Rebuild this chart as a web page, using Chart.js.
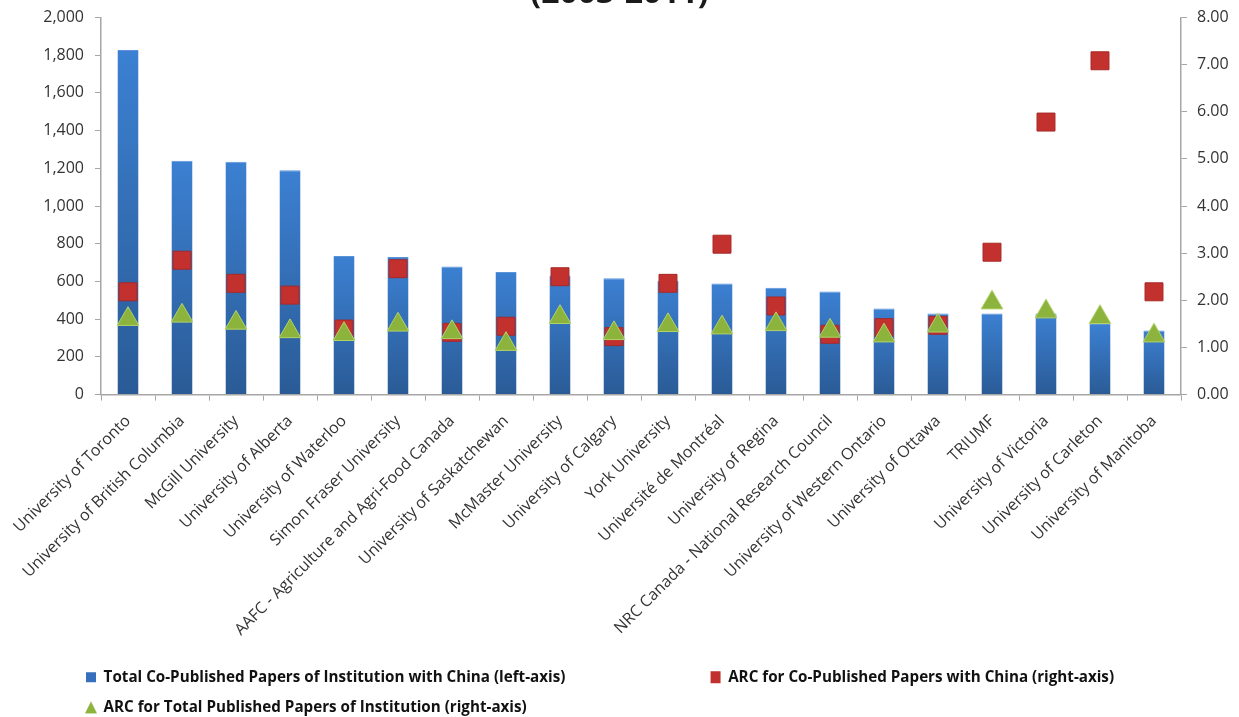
<!DOCTYPE html>
<html lang="en">
<head>
    <meta charset="UTF-8">
    <title>Co-Published Papers with China</title>
    <style>
        html, body {
            margin: 0;
            padding: 0;
            background: #fff;
            overflow: hidden;
        }
        .wrap {
            position: relative;
            width: 1239px;
            height: 717px;
            overflow: hidden;
        }
        #chart {
            position: absolute;
            left: 0;
            top: -30px;
        }
    </style>
</head>
<body>
<div class="wrap">
    <canvas id="chart" width="1239" height="755"></canvas>
</div>

<script src="https://cdn.jsdelivr.net/npm/chart.js"></script>
<script>
    // institutions, in the order shown
    const institutions = [
        'University of Toronto', 'University of British Columbia', 'McGill University',
        'University of Alberta', 'University of Waterloo', 'Simon Fraser University',
        'AAFC - Agriculture and Agri-Food Canada', 'University of Saskatchewan',
        'McMaster University', 'University of Calgary', 'York University',
        'Université de Montréal', 'University of Regina',
        'NRC Canada - National Research Council', 'University of Western Ontario',
        'University of Ottawa', 'TRIUMF', 'University of Victoria',
        'University of Carleton', 'University of Manitoba'
    ];

    // left axis: total co-published papers with China
    const coPublished = [1827, 1240, 1235, 1189, 735, 729, 679, 650, 632, 617,
                         603, 589, 566, 546, 457, 430, 430, 430, 374, 340];

    // right axis: ARC for co-published papers with China
    const arcChina = [2.18, 2.85, 2.36, 2.11, 1.39, 2.67, 1.32, 1.45, 2.50, 1.23,
                      2.36, 3.19, 1.88, 1.28, 1.42, 1.47, 3.02, 5.78, 7.08, 2.18];

    // right axis: ARC for total published papers
    const arcTotal = [1.60, 1.67, 1.52, 1.34, 1.28, 1.48, 1.32, 1.07, 1.64, 1.30,
                      1.47, 1.42, 1.49, 1.35, 1.25, 1.46, 1.95, 1.76, 1.64, 1.25];

    const titleText = '(2003-2011)';
    const legendTexts = [
        'Total Co-Published Papers of Institution with China (left-axis)',
        'ARC for Co-Published Papers with China (right-axis)',
        'ARC for Total Published Papers of Institution (right-axis)'
    ];

    const axisColor = '#a6a6a6';
    const tickFont = { family: 'Open Sans', size: 16 };
    const legendFont = { family: 'Open Sans', size: 15.2, weight: 'bold' };

    // small marker images for the legend
    function legendMarker(kind) {
        const c = document.createElement('canvas');
        c.width = 12; c.height = 14;
        const g = c.getContext('2d');
        if (kind === 'bar') {
            g.fillStyle = '#3670bd';
            g.fillRect(1, 2, 10, 10);
        } else if (kind === 'rect') {
            g.fillStyle = '#c0302e';
            g.fillRect(1, 1, 10, 12);
        } else {
            g.fillStyle = '#8cb43c';
            g.beginPath();
            g.moveTo(6, 1); g.lineTo(12, 13); g.lineTo(0, 13);
            g.closePath(); g.fill();
        }
        return c;
    }
    const markers = [legendMarker('bar'), legendMarker('rect'), legendMarker('tri')];

    // pad the first legend entry so the second one starts where it does in the original
    function padFirstLegend(text) {
        const m = document.createElement('canvas').getContext('2d');
        m.font = 'bold 15.2px "Open Sans"';
        const target = 592;
        const sp = m.measureText('\u00A0').width;
        const n = Math.max(0, Math.round((target - m.measureText(text).width) / sp));
        return text + '\u00A0'.repeat(n);
    }

    function barGradient(c) {
        const chart = c.chart;
        const area = chart.chartArea;
        if (!area || c.type !== 'data') return '#3670bd';
        const top = chart.scales.y.getPixelForValue(c.raw);
        const g = chart.ctx.createLinearGradient(0, top, 0, area.bottom);
        g.addColorStop(0, '#3c80d2');
        g.addColorStop(1, '#2a5b96');
        return g;
    }

    // move the legend so its rows line up under the plot area
    const legendShift = {
        id: 'legendShift',
        afterLayout(chart) {
            const lg = chart.legend;
            const dx = chart.chartArea.left - 30 - lg.left;
            lg.left += dx;
            lg.right += dx;
        }
    };

    new Chart(document.getElementById('chart'), {
        type: 'bar',
        data: {
            labels: institutions,
            datasets: [
                {
                    type: 'line',
                    label: legendTexts[1],
                    data: arcChina,
                    yAxisID: 'y2',
                    showLine: false,
                    pointStyle: 'rect',
                    pointRadius: 12.7,
                    pointHoverRadius: 12.7,
                    backgroundColor: '#c3312f',
                    borderColor: '#a82826',
                    borderWidth: 1,
                    order: 1
                },
                {
                    type: 'line',
                    label: legendTexts[2],
                    data: arcTotal,
                    yAxisID: 'y2',
                    showLine: false,
                    pointStyle: 'triangle',
                    pointRadius: 12.5,
                    pointHoverRadius: 12.5,
                    backgroundColor: '#8cb43c',
                    borderColor: '#b3d26a',
                    borderWidth: 1,
                    order: 0
                },
                {
                    label: legendTexts[0],
                    data: coPublished,
                    yAxisID: 'y',
                    backgroundColor: barGradient,
                    borderColor: '#5b93d8',
                    borderWidth: { top: 1, left: 0, right: 0, bottom: 0 },
                    categoryPercentage: 1,
                    barPercentage: 0.39,
                    order: 2
                }
            ]
        },
        plugins: [legendShift],
        options: {
            responsive: false,
            animation: false,
            layout: { padding: 0 },
            plugins: {
                tooltip: { enabled: false },
                title: {
                    display: true,
                    text: titleText,
                    color: '#1a1a1a',
                    font: { family: 'Open Sans', size: 32, weight: 'bold' },
                    padding: { top: 5, bottom: 4 }
                },
                legend: {
                    position: 'bottom',
                    align: 'start',
                    labels: {
                        usePointStyle: true,
                        boxWidth: 10,
                        padding: 15,
                        color: '#111',
                        font: legendFont,
                        generateLabels: function (chart) {
                            // order: bars, squares, triangles
                            const idx = [2, 0, 1];
                            return idx.map(function (d, i) {
                                let text = chart.data.datasets[d].label;
                                if (i === 0) text = padFirstLegend(text);
                                return {
                                    text: text,
                                    pointStyle: markers[i],
                                    fillStyle: 'transparent',
                                    strokeStyle: 'transparent',
                                    lineWidth: 0,
                                    hidden: false,
                                    datasetIndex: d,
                                    fontColor: '#111'
                                };
                            });
                        }
                    }
                }
            },
            scales: {
                x: {
                    grid: {
                        display: true,
                        drawOnChartArea: false,
                        drawTicks: true,
                        tickLength: 6,
                        color: axisColor,
                        offset: true
                    },
                    border: { color: axisColor, width: 1.5 },
                    ticks: {
                        autoSkip: false,
                        maxRotation: 45,
                        minRotation: 45,
                        color: '#333',
                        font: tickFont,
                        padding: 11
                    },
                    afterFit: function (s) { s.height = 260; }
                },
                y: {
                    position: 'left',
                    min: 0,
                    max: 2000,
                    ticks: {
                        stepSize: 200,
                        color: '#333',
                        font: tickFont,
                        padding: 11,
                        callback: function (v) { return v.toLocaleString('en-US'); }
                    },
                    grid: {
                        drawOnChartArea: false,
                        tickLength: 6,
                        color: axisColor
                    },
                    border: { color: axisColor, width: 1.5 },
                    afterFit: function (s) { s.width = 101; }
                },
                y2: {
                    position: 'right',
                    min: 0,
                    max: 8,
                    ticks: {
                        stepSize: 1,
                        color: '#333',
                        font: tickFont,
                        padding: 10,
                        callback: function (v) { return v.toFixed(2); }
                    },
                    grid: {
                        drawOnChartArea: false,
                        tickLength: 6,
                        color: axisColor
                    },
                    border: { color: axisColor, width: 1.5 },
                    afterFit: function (s) { s.width = 58; }
                }
            }
        }
    });
</script>
</body>
</html>
